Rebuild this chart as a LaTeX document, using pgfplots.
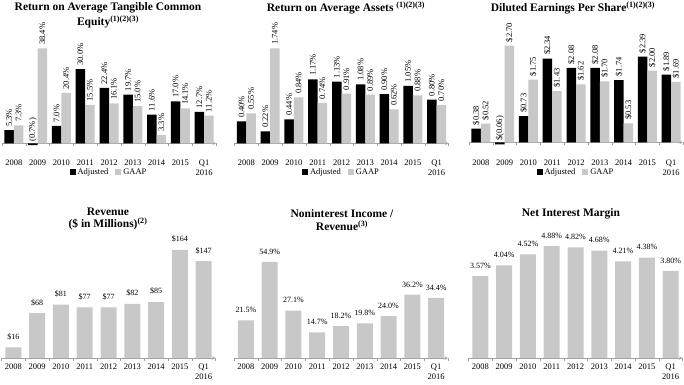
\documentclass[border=0pt]{standalone}
\usepackage{pgfplots}
\pgfplotsset{compat=1.18}
\usepackage{pgfplotstable}
\usepackage{fontspec}
\setmainfont{Liberation Serif}
\definecolor{bargray}{HTML}{C8C8C8}
\definecolor{axgray}{HTML}{A0A0A0}

\pgfplotstableread{
x a al g gl
0 5.3 5.3\% 7.3 7.3\%
1 -0.7 (0.7\%) 38.4 38.4\%
2 7.0 7.0\% 20.4 20.4\%
3 30.0 30.0\% 15.5 15.5\%
4 22.4 22.4\% 16.1 16.1\%
5 19.7 19.7\% 15.0 15.0\%
6 11.6 11.6\% 3.3 3.3\%
7 17.0 17.0\% 14.1 14.1\%
8 12.7 12.7\% 11.2 11.2\%
}\roatce

\pgfplotstableread{
x a al g gl
0 0.40 0.40\% 0.55 0.55\%
1 0.22 0.22\% 1.74 1.74\%
2 0.44 0.44\% 0.84 0.84\%
3 1.17 1.17\% 0.74 0.74\%
4 1.13 1.13\% 0.91 0.91\%
5 1.08 1.08\% 0.89 0.89\%
6 0.90 0.90\% 0.62 0.62\%
7 1.05 1.05\% 0.88 0.88\%
8 0.80 0.80\% 0.70 0.70\%
}\roaa

\pgfplotstableread{
x a al g gl
0 0.38 \$0.38 0.52 \$0.52
1 -0.06 \$(0.06) 2.70 \$2.70
2 0.73 \$0.73 1.75 \$1.75
3 2.34 \$2.34 1.43 \$1.43
4 2.08 \$2.08 1.62 \$1.62
5 2.08 \$2.08 1.70 \$1.70
6 1.74 \$1.74 0.53 \$0.53
7 2.39 \$2.39 2.00 \$2.00
8 1.89 \$1.89 1.69 \$1.69
}\eps

\pgfplotstableread{
x rev nii nim
0 16 21.5 3.57
1 68 54.9 4.04
2 81 27.1 4.52
3 77 14.7 4.88
4 77 18.2 4.82
5 82 19.8 4.68
6 85 24.0 4.21
7 164 36.2 4.38
8 147 34.4 3.80
}\bottom

\pgfplotsset{
  /pgf/number format/assume math mode=true,
  base/.style={scale only axis, width=214pt, xmin=-0.5, xmax=8.5,
    axis y line=none, xtick={0,...,8},
    xticklabels={2008,2009,2010,2011,2012,2013,2014,2015,{Q1\\2016}},
    major tick length=0pt, minor xtick={-0.5,0.5,...,8.5}, minor tick length=3pt,
    tick align=outside, minor tick style={draw=axgray},
    axis line style={draw=axgray, line width=0.6pt, -},
    x axis line style={-},
    hide obscured x ticks=false,
    xticklabel style={align=center, font=\fontsize{8.5}{10.5}\selectfont, text=black},
    clip=false, anchor=south west},
  top/.style={base, axis x line=middle, xticklabel style={yshift=-12.7pt},
    ybar=0pt, bar width=9.5pt,
    legend columns=2,
    legend style={draw=none, fill=none, at={(0.5,#1)}, anchor=center,
      font=\fontsize{8.5}{10}\selectfont,
      /tikz/every even column/.append style={column sep=5pt}},
    legend image code/.code={\fill[##1] (0pt,-3pt) rectangle (6pt,3pt);},
    nodes near coords, point meta=explicit symbolic,
    every node near coord/.append style={rotate=90, anchor=west, font=\fontsize{8.5}{9}\selectfont}},
  bot/.style={base, axis x line=bottom, ymin=0, xticklabel style={yshift=-2.3pt},
    ybar, bar width=16pt,
    every node near coord/.append style={font=\fontsize{8}{9}\selectfont, yshift=4pt}},
}
\tikzset{ttl/.style={font=\fontsize{11.5}{15}\selectfont\bfseries, align=center}}

\begin{document}
\begin{tikzpicture}
\useasboundingbox (0,0) rectangle (684pt,384pt);

% Panel 1
\begin{axis}[top=-0.143, at={(2pt,228pt)}, height=111.65pt, ymin=-5.13, ymax=40]
\addplot[fill=black, draw=none] table[x=x, y=a, meta=al]{\roatce};
\addplot[fill=bargray, draw=none] table[x=x, y=g, meta=gl]{\roatce};
\legend{Adjusted, GAAP}
\end{axis}

% Panel 2
\begin{axis}[top=-0.131, at={(234.5pt,228pt)}, height=121.9pt, ymin=-0.2326, ymax=2.0]
\addplot[fill=black, draw=none] table[x=x, y=a, meta=al]{\roaa};
\addplot[fill=bargray, draw=none] table[x=x, y=g, meta=gl]{\roaa};
\legend{Adjusted, GAAP}
\end{axis}

% Panel 3
\begin{axis}[top=-0.132, at={(469pt,228pt)}, height=121.1pt, ymin=-0.3827, ymax=3.0, xticklabel style={yshift=-1pt}]
\addplot[fill=black, draw=none] table[x=x, y=a, meta=al]{\eps};
\addplot[fill=bargray, draw=none] table[x=x, y=g, meta=gl]{\eps};
\legend{Adjusted, GAAP}
\end{axis}

% Panel 4
\begin{axis}[bot, at={(1.5pt,26pt)}, height=118.6pt, ymax=180,
  nodes near coords={\$\pgfmathprintnumber{\pgfplotspointmeta}}]
\addplot[fill=bargray, draw=none] table[x=x, y=rev]{\bottom};
\end{axis}

% Panel 5
\begin{axis}[bot, at={(234pt,26pt)}, height=113.7pt, ymax=65,
  nodes near coords={\pgfmathprintnumber[fixed,fixed zerofill,precision=1]{\pgfplotspointmeta}\%}]
\addplot[fill=bargray, draw=none] table[x=x, y=nii]{\bottom};
\end{axis}

% Panel 6
\begin{axis}[bot, at={(468.5pt,26pt)}, height=119.3pt, ymax=5.2,
  nodes near coords={\pgfmathprintnumber[fixed,fixed zerofill,precision=2]{\pgfplotspointmeta}\%}]
\addplot[fill=bargray, draw=none] table[x=x, y=nim]{\bottom};
\end{axis}

% Titles
\node[ttl] at (108pt,368.5pt) {Return on Average Tangible Common\\Equity\textsuperscript{(1)(2)(3)}};
\node[ttl] at (346pt,376pt) {Return on Average Assets \textsuperscript{(1)(2)(3)}};
\node[ttl] at (573pt,376pt) {Diluted Earnings Per Share\textsuperscript{(1)(2)(3)}};
\node[ttl, font=\fontsize{11.5}{12.5}\selectfont\bfseries] at (108pt,165pt) {Revenue\\(\$ in Millions)\textsuperscript{(2)}};
\node[ttl, font=\fontsize{11.5}{13.5}\selectfont\bfseries] at (342pt,164pt) {Noninterest Income /\\Revenue\textsuperscript{(3)}};
\node[ttl] at (571pt,170pt) {Net Interest Margin};
\end{tikzpicture}
\end{document}
